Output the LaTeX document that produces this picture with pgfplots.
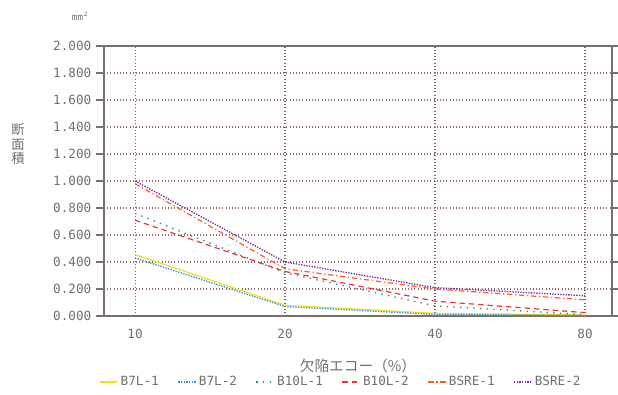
\documentclass[border=0pt]{standalone}
\usepackage{pgfplots}
\pgfplotsset{compat=1.18}
\usetikzlibrary{calc}
\usepackage{fontspec}
\setmainfont{DejaVu Sans Mono}
\newfontfamily\cjk{Noto Sans CJK JP}
\definecolor{txt}{HTML}{707070}
\definecolor{frame}{HTML}{7A6E6E}
\definecolor{gridc}{HTML}{9A6A6A}
\definecolor{gridv}{HTML}{6A6A6A}
\definecolor{cyel}{HTML}{F0E020}
\definecolor{cblu}{HTML}{3090E0}
\definecolor{cgrn}{HTML}{209070}
\definecolor{cred}{HTML}{F03040}
\definecolor{cora}{HTML}{FF5A20}
\definecolor{cpur}{HTML}{7A2A9A}
\begin{document}
\begin{tikzpicture}
\begin{axis}[
  name=ax,
  at={(0,0)}, anchor=south west,
  scale only axis,
  width=381pt, height=202.5pt,
  xmin=-0.207, xmax=3.18,
  ymin=0, ymax=2,
  xtick={0,1,2,3},
  xticklabels={10,20,40,80},
  ytick={0,0.2,...,2.0},
  yticklabel style={/pgf/number format/.cd,fixed,fixed zerofill,precision=3},
  /pgf/number format/assume math mode=true,
  ticklabel style={font=\fontsize{9.5}{11}\selectfont, text=txt},
  tick align=outside,
  major tick length=6pt,
  tick style={frame, line width=1pt},
  xtick style={draw=none},
  ymajorgrids,
  xmajorgrids,
  y grid style={gridc, dotted, line width=0.8pt},
  x grid style={gridv, dotted, line width=0.8pt},
  axis line style={frame, line width=1.8pt},
  xlabel={\cjk 欠陥エコー（\%）},
  xlabel style={font=\cjk\fontsize{11}{13}\selectfont, text=txt, at={(axis description cs:0.5,-0.14)}, anchor=north},
  legend style={at={(axis description cs:0.467,-0.244)}, anchor=center, draw=none, fill=none,
    font=\fontsize{9.5}{11}\selectfont, legend columns=6,
    /tikz/every even column/.append style={column sep=12pt}},
  legend image code/.code={\draw[#1, line width=1.1pt] (0pt,0pt) -- (13pt,0pt);},
  clip=false,
]
\addplot[color=cyel, line width=0.9pt] coordinates {(0,0.455) (1,0.08) (2,0.02) (3,0.008)};
\addlegendentry{\textcolor{txt}{B7L-1}}
\addplot[color=cblu, line width=1pt, densely dotted] coordinates {(0,0.43) (1,0.07) (2,0.012) (3,0.004)};
\addlegendentry{\textcolor{txt}{B7L-2}}
\addplot[color=cgrn, line width=1pt, dash pattern=on 1pt off 4pt] coordinates {(0,0.76) (1,0.32) (2,0.075) (3,0.01)};
\addlegendentry{\textcolor{txt}{B10L-1}}
\addplot[color=cred, line width=0.9pt, dash pattern=on 4pt off 3pt] coordinates {(0,0.71) (1,0.33) (2,0.11) (3,0.025)};
\addlegendentry{\textcolor{txt}{B10L-2}}
\addplot[color=cora, line width=0.9pt, dash pattern=on 4pt off 2pt on 1pt off 2pt] coordinates {(0,0.98) (1,0.35) (2,0.20) (3,0.12)};
\addlegendentry{\textcolor{txt}{BSRE-1}}
\addplot[color=cpur, line width=1pt, densely dotted] coordinates {(0,1.0) (1,0.40) (2,0.21) (3,0.15)};
\addlegendentry{\textcolor{txt}{BSRE-2}}
\node[font=\cjk\fontsize{10}{11}\selectfont, text=txt, align=center, inner sep=0pt] at (axis description cs:-0.169,0.637) {断\\面\\積};
\node[font=\fontsize{7}{8}\selectfont, text=txt, inner sep=0pt] at (axis description cs:-0.047,1.11) {mm$^2$};
\end{axis}
\pgfresetboundingbox
\useasboundingbox ($(ax.south west)+(-78pt,-58.5pt)$) rectangle ($(ax.south west)+(385.5pt,237pt)$);
\end{tikzpicture}
\end{document}
